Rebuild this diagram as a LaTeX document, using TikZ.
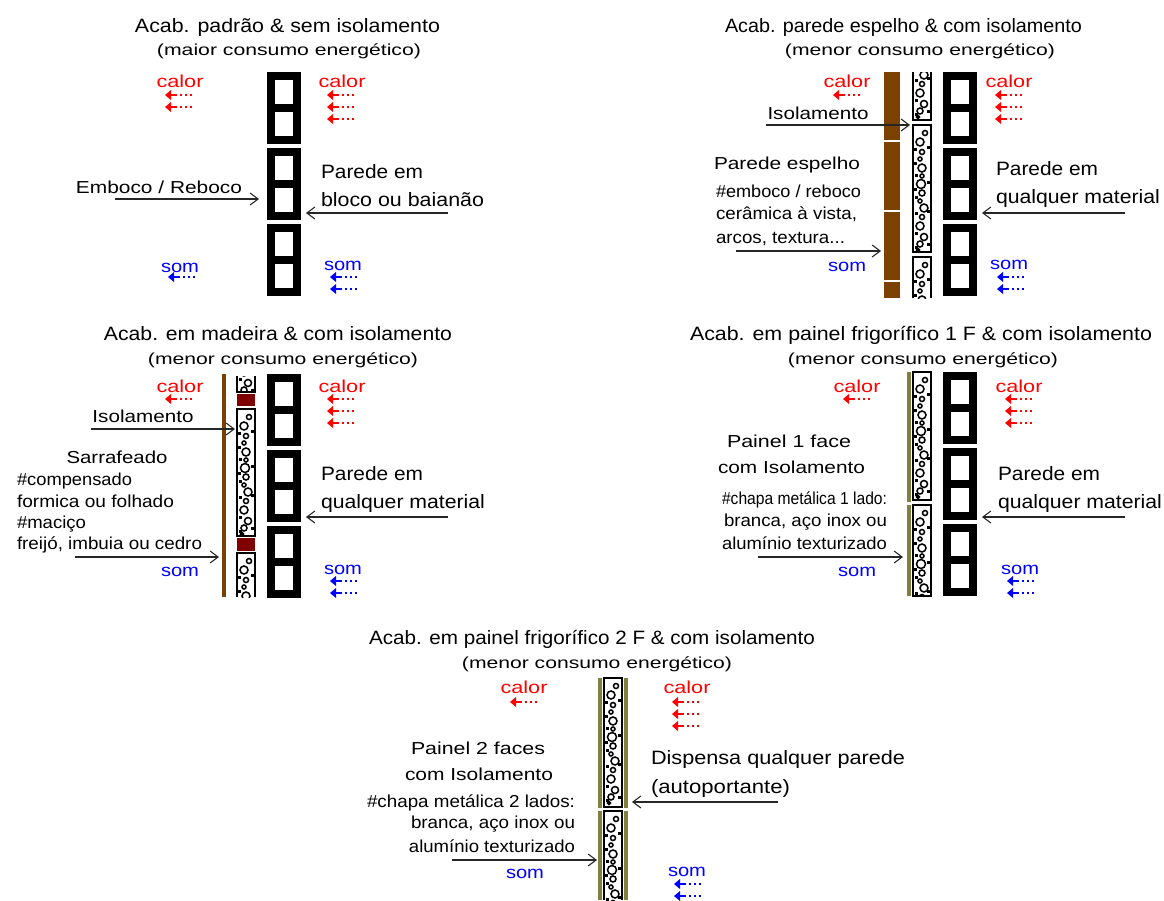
\documentclass[tikz,border=0pt]{standalone}
\usepackage{fontspec}
\usepackage{graphicx}
\setmainfont{Liberation Sans}
\usetikzlibrary{arrows.meta}
\definecolor{wood}{RGB}{124,64,0}
\definecolor{batten}{RGB}{128,0,0}
\definecolor{panelolive}{RGB}{128,128,64}
\definecolor{heatred}{RGB}{255,0,0}
\definecolor{soundblue}{RGB}{0,0,255}
\newdimen\px \px=0.75pt
\tikzset{
  txt/.style={inner sep=0pt,outer sep=0pt},
  ptrline/.style={draw=black!85,line width=1.15pt,-{Straight Barb[length=6pt,width=9pt,line width=0.8pt]}},
}
% \lbl{name}{x}{y}{anchor}{width px}{font size pt}{colour}{text}
\newcommand\lbl[8]{\node[txt,anchor=#4,text=#7] (#1) at (#2,#3+3.5)
  {\fontsize{#6}{#6}\selectfont\resizebox{#5\px}{\height}{#8}};}
\newcommand\ptr[4]{\coordinate (#1s) at (#2,#3); \coordinate (#1e) at (#4,#3);
  \draw[ptrline] (#1s) -- (#1e);}
\newcommand\flow[3]{%
  \fill[#1] (#2,#3) -- (#2+6,#3-5) -- (#2+6,#3+5) -- cycle;
  \fill[#1] (#2+4,#3-1.4) rectangle (#2+12,#3+1.4);
  \foreach \d in {16,21,26} {\fill[#1] (#2+\d-1,#3-1) rectangle (#2+\d+1,#3+1);}}
\newcommand\wallunit[2]{%
  \fill[black] (#1,#2) rectangle (#1+34,#2+72);
  \fill[white] (#1+8,#2+8) rectangle (#1+26,#2+32);
  \fill[white] (#1+8,#2+40) rectangle (#1+26,#2+64);}
\newcommand\wallcol[2]{\wallunit{#1}{#2}\wallunit{#1}{#2+76}\wallunit{#1}{#2+152}}
% \insul{x}{y1}{y2}{offset}{flag: 0 closed,1 open top,2 open bottom}
\newcommand\insul[5]{%
  \fill[white] (#1,#2) rectangle (#1+18,#3);
  \begin{scope}
  \clip (#1,#2) rectangle (#1+18,#3);
  \foreach \a/\b/\r in {12/8/2.5,7/17/4,9/27/2.5,7/34/2,9/43/4,9/51/2,8/59/4.5,9/68/3,7/76/2,11/83/4,9/92/2.5,7/101/4,11/112/3.5,7/119/3,5/125/1.5} {
    \draw[black,line width=1.15pt] (#1+\a,#2+#4+\b) circle[radius=\r];}
  \foreach \a/\b in {2.5/24,2.5/38,3/50,2.5/64,3/72,3/88,3/108,15/22,15/57,15/86,3/122,15/119} {
    \fill[black] (#1+\a-1.5,#2+#4+\b-1.5) rectangle (#1+\a+1.5,#2+#4+\b+1.5);}
  \end{scope}
  \ifcase#5\relax
    \draw[black,line width=1.15pt] (#1,#2) rectangle (#1+18,#3);
  \or
    \draw[black,line width=1.15pt] (#1,#2) -- (#1,#3) -- (#1+18,#3) -- (#1+18,#2);
  \or
    \draw[black,line width=1.15pt] (#1,#3) -- (#1,#2) -- (#1+18,#2) -- (#1+18,#3);
  \fi}
\begin{document}
\begin{tikzpicture}[x=0.75pt,y=-0.75pt]
\useasboundingbox[fill=white] (0,0) rectangle (1164,900);

%% ---------- Panel 1
\lbl{t1}{287.5}{25}{mid}{305}{14.5}{black}{Acab. padrão \& sem isolamento}
\lbl{s1}{289}{48}{mid}{264}{12}{black}{(maior consumo energético)}
\wallcol{267}{72}
\lbl{c1a}{180}{80}{mid}{47}{13}{heatred}{calor}
\lbl{c1b}{342}{80}{mid}{47}{13}{heatred}{calor}
\flow{heatred}{165}{95}\flow{heatred}{165}{107}
\flow{heatred}{327}{95}\flow{heatred}{327}{107}\flow{heatred}{327}{119}
\lbl{m1a}{180}{265}{mid}{38}{13}{soundblue}{som}
\lbl{m1b}{343}{263}{mid}{38}{13}{soundblue}{som}
\flow{soundblue}{168}{277}
\flow{soundblue}{330}{277}\flow{soundblue}{330}{289}
\lbl{e1}{159}{186}{mid}{166}{13}{black}{Emboco / Reboco}
\ptr{p1a}{115}{199}{259}
\lbl{w1a}{321}{171}{mid west}{102}{14.5}{black}{Parede em}
\lbl{w1b}{321}{199}{mid west}{163}{14.5}{black}{bloco ou baianão}
\ptr{p1b}{448}{213}{306}

%% ---------- Panel 2
\lbl{t2}{903.5}{25}{mid}{357}{14.5}{black}{Acab. parede espelho \& com isolamento}
\lbl{s2}{920}{48}{mid}{270}{12}{black}{(menor consumo energético)}
\fill[wood] (884,72) rectangle (900,298);
\foreach \y in {141,211,281} {\fill[white] (884,\y-0.6) rectangle (900,\y+0.6);}
\insul{913}{72}{120}{-80}{1}
\insul{913}{125}{252}{0}{0}
\insul{913}{257}{298}{0}{2}
\wallcol{943}{72}
\lbl{c2a}{847}{80}{mid}{47}{13}{heatred}{calor}
\lbl{c2b}{1009}{80}{mid}{47}{13}{heatred}{calor}
\flow{heatred}{833}{95}
\flow{heatred}{995}{95}\flow{heatred}{995}{107}\flow{heatred}{995}{119}
\lbl{m2a}{847}{264}{mid}{38}{13}{soundblue}{som}
\lbl{m2b}{1009}{262}{mid}{38}{13}{soundblue}{som}
\flow{soundblue}{997}{277}\flow{soundblue}{997}{289}
\lbl{i2}{818}{112}{mid}{101}{13}{black}{Isolamento}
\ptr{p2a}{766}{125}{910}
\lbl{x2a}{787}{162}{mid}{146}{13}{black}{Parede espelho}
\lbl{x2b}{716}{190}{mid west}{145}{13}{black}{\#emboco / reboco}
\lbl{x2c}{716}{212}{mid west}{141}{13}{black}{cerâmica à vista,}
\lbl{x2d}{716}{236}{mid west}{129}{13}{black}{arcos, textura...}
\ptr{p2b}{736}{251}{881}
\lbl{w2a}{996}{168}{mid west}{102}{14.5}{black}{Parede em}
\lbl{w2b}{996}{196}{mid west}{164}{14.5}{black}{qualquer material}
\ptr{p2c}{1125}{213}{982}

%% ---------- Panel 3
\lbl{t3}{278}{333}{mid}{348}{14.5}{black}{Acab. em madeira \& com isolamento}
\lbl{s3}{283}{357}{mid}{270}{12}{black}{(menor consumo energético)}
\fill[wood] (222,374) rectangle (226,597);
\insul{237}{376}{392}{-105}{1}
\fill[batten] (237,394) rectangle (255,406);
\insul{237}{409}{536}{0}{0}
\fill[batten] (237,538) rectangle (255,551);
\insul{237}{553}{597}{0}{2}
\wallcol{267}{374}
\lbl{c3a}{180}{385}{mid}{47}{13}{heatred}{calor}
\lbl{c3b}{342}{385}{mid}{47}{13}{heatred}{calor}
\flow{heatred}{165}{399}
\flow{heatred}{327}{399}\flow{heatred}{327}{411}\flow{heatred}{327}{423}
\lbl{m3a}{180}{569}{mid}{38}{13}{soundblue}{som}
\lbl{m3b}{343}{567}{mid}{38}{13}{soundblue}{som}
\flow{soundblue}{330}{581}\flow{soundblue}{330}{593}
\lbl{i3}{143}{415}{mid}{101}{13}{black}{Isolamento}
\ptr{p3a}{91}{429}{235}
\lbl{x3a}{117}{456}{mid}{101}{13}{black}{Sarrafeado}
\lbl{x3b}{17}{478}{mid west}{115}{13}{black}{\#compensado}
\lbl{x3c}{17}{500}{mid west}{157}{13}{black}{formica ou folhado}
\lbl{x3d}{17}{521}{mid west}{69}{13}{black}{\#maciço}
\lbl{x3e}{17}{542}{mid west}{185}{13}{black}{freijó, imbuia ou cedro}
\ptr{p3b}{75}{557}{219}
\lbl{w3a}{321}{473}{mid west}{102}{14.5}{black}{Parede em}
\lbl{w3b}{321}{501}{mid west}{164}{14.5}{black}{qualquer material}
\ptr{p3c}{448}{517}{306}

%% ---------- Panel 4
\lbl{t4}{921}{333}{mid}{462}{14.5}{black}{Acab. em painel frigorífico 1 F \& com isolamento}
\lbl{s4}{923}{357}{mid}{270}{12}{black}{(menor consumo energético)}
\fill[panelolive] (907,372) rectangle (911,502);
\fill[panelolive] (907,505) rectangle (911,596);
\insul{913}{372}{500}{0}{0}
\insul{913}{505}{596}{0}{0}
\wallcol{943}{372}
\lbl{c4a}{857}{385}{mid}{47}{13}{heatred}{calor}
\lbl{c4b}{1019}{385}{mid}{47}{13}{heatred}{calor}
\flow{heatred}{843}{399}
\flow{heatred}{1005}{399}\flow{heatred}{1005}{411}\flow{heatred}{1005}{423}
\lbl{m4a}{857}{569}{mid}{38}{13}{soundblue}{som}
\lbl{m4b}{1020}{567}{mid}{38}{13}{soundblue}{som}
\flow{soundblue}{1007}{581}\flow{soundblue}{1007}{593}
\lbl{x4a}{789}{440}{mid}{124}{13}{black}{Painel 1 face}
\lbl{x4b}{791.5}{466}{mid}{147}{13}{black}{com Isolamento}
\lbl{x4c}{887}{497}{mid east}{165}{13}{black}{\#chapa metálica 1 lado:}
\lbl{x4d}{887}{519}{mid east}{163}{13}{black}{branca, aço inox ou}
\lbl{x4e}{887}{542}{mid east}{165}{13}{black}{alumínio texturizado}
\ptr{p4a}{758}{557}{903}
\lbl{w4a}{998}{473}{mid west}{102}{14.5}{black}{Parede em}
\lbl{w4b}{998}{501}{mid west}{164}{14.5}{black}{qualquer material}
\ptr{p4b}{1125}{517}{982}

%% ---------- Panel 5
\lbl{t5}{592}{637}{mid}{446}{14.5}{black}{Acab. em painel frigorífico 2 F \& com isolamento}
\lbl{s5}{597}{661}{mid}{270}{12}{black}{(menor consumo energético)}
\foreach \a in {598,624} {
  \fill[panelolive] (\a,678) rectangle (\a+4,808);
  \fill[panelolive] (\a,811) rectangle (\a+4,900);}
\insul{604}{678}{807}{0}{0}
\insul{604}{811}{900}{0}{2}
\lbl{c5a}{524}{686}{mid}{47}{13}{heatred}{calor}
\lbl{c5b}{687}{686}{mid}{47}{13}{heatred}{calor}
\flow{heatred}{510}{702}
\flow{heatred}{672}{702}\flow{heatred}{672}{714}\flow{heatred}{672}{726}
\lbl{m5a}{525}{871}{mid}{38}{13}{soundblue}{som}
\lbl{m5b}{687}{869}{mid}{38}{13}{soundblue}{som}
\flow{soundblue}{674}{884}\flow{soundblue}{674}{896}
\lbl{x5a}{478}{747}{mid}{134}{13}{black}{Painel 2 faces}
\lbl{x5b}{479}{773}{mid}{148}{13}{black}{com Isolamento}
\lbl{x5c}{575}{800}{mid east}{208}{13}{black}{\#chapa metálica 2 lados:}
\lbl{x5d}{575}{821}{mid east}{164}{13}{black}{branca, aço inox ou}
\lbl{x5e}{575}{845}{mid east}{166}{13}{black}{alumínio texturizado}
\ptr{p5a}{452}{860}{597}
\lbl{w5a}{651}{757}{mid west}{254}{14.5}{black}{Dispensa qualquer parede}
\lbl{w5b}{651}{786}{mid west}{139}{14.5}{black}{(autoportante)}
\ptr{p5b}{778}{802}{632}
\end{tikzpicture}
\end{document}
